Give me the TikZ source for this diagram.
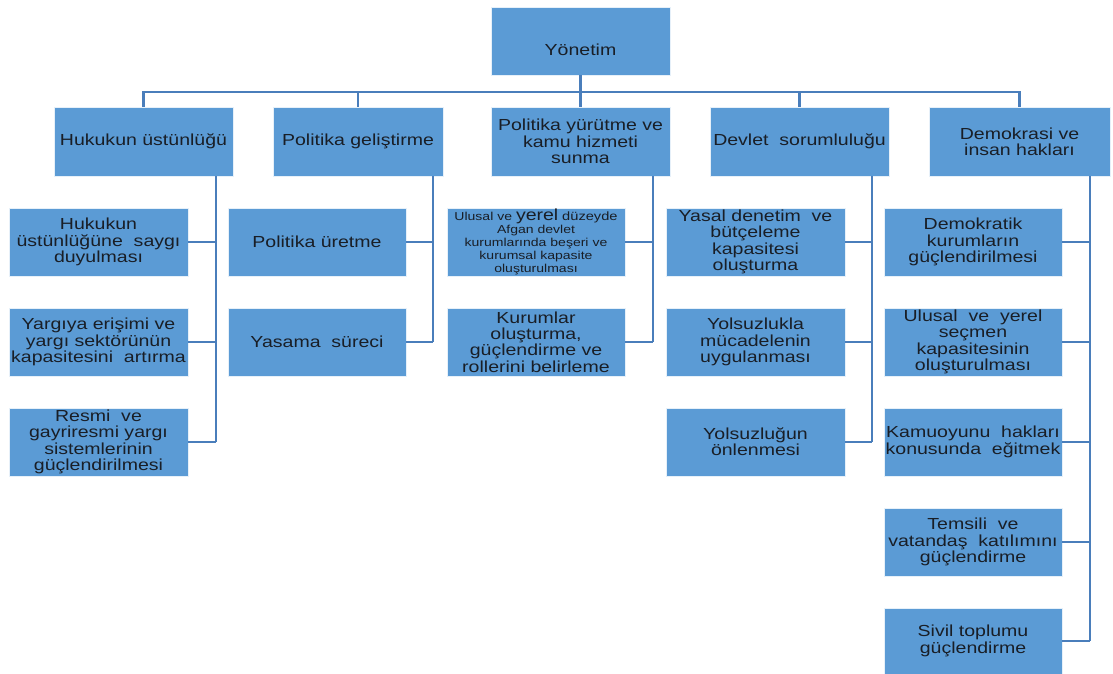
\documentclass[tikz,border=0pt]{standalone}
\usepackage{fontspec}
\setmainfont[FakeStretch=1.22]{Liberation Sans}
\definecolor{boxblue}{RGB}{91,155,213}
\definecolor{linkblue}{RGB}{74,126,187}
\definecolor{textdark}{RGB}{25,30,38}
\begin{document}
\begin{tikzpicture}[x=1pt,y=-1pt,
  box/.style={fill=boxblue, draw=white!85!boxblue, line width=0.8pt, inner sep=0pt,
    minimum width=179pt, minimum height=68pt, align=center, text=textdark,
    font=\fontsize{16}{16.3}\selectfont},
  link/.style={draw=linkblue, line width=2.6pt}]
\useasboundingbox (0,0) rectangle (1113,674);

% top
\node[box, text height=33pt, text depth=3pt] (yon) at (580.5,41) {Yönetim};

% first level
\node[box, minimum height=69pt] (hk) at (143.5,141.5) {Hukukun üstünlüğü};
\node[box, minimum height=69pt, minimum width=170pt] (pg) at (358,141.5) {Politika geliştirme};
\node[box, minimum height=69pt] (py) at (580.5,141.5) {Politika yürütme ve\\kamu hizmeti\\sunma};
\node[box, minimum height=69pt] (ds) at (799.5,141.5) {Devlet\ \ sorumluluğu};
\node[box, minimum height=69pt, minimum width=181pt] (dh) at (1019.5,141.5) {Demokrasi ve\\insan hakları};

% bus
\coordinate (bus) at (0,92);
\draw[link] (hk.north) -- (hk.north |- bus) -- (dh.north |- bus) -- (dh.north);
\draw[link] (yon.south) -- (py.north);
\draw[link] (pg.north) -- (pg.north |- bus);
\draw[link] (ds.north) -- (ds.north |- bus);

% Hukukun ustunlugu
\node[box] (hk1) at (98.5,242) {Hukukun\\üstünlüğüne\ \ saygı\\duyulması};
\node[box] (hk2) at (98.5,342) {Yargıya erişimi ve\\yargı sektörünün\\kapasitesini\ \ artırma};
\node[box] (hk3) at (98.5,442) {Resmi\ \ ve\\gayriresmi yargı\\sistemlerinin\\güçlendirilmesi};
\coordinate (s1) at (216,0);
\draw[link] (hk.south -| s1) -- (hk3.east -| s1);
\foreach \c in {hk1,hk2,hk3} \draw[link] (\c.east) -- (\c.east -| s1);

% Politika gelistirme
\node[box, minimum width=178pt] (pg1) at (317,242) {Politika üretme};
\node[box, minimum width=178pt] (pg2) at (317,342) {Yasama\ \ süreci};
\coordinate (s2) at (433,0);
\draw[link] (pg.south -| s2) -- (pg2.east -| s2);
\foreach \c in {pg1,pg2} \draw[link] (\c.east) -- (\c.east -| s2);

% Politika yurutme
\node[box, minimum width=178pt, font=\fontsize{11.5}{13}\selectfont] (py1) at (536,242)
  {Ulusal ve {\fontsize{16}{13}\selectfont yerel} {\fontsize{12}{13}\selectfont düzeyde}\\Afgan devlet\\kurumlarında beşeri ve\\kurumsal kapasite\\oluşturulması};
\node[box, minimum width=178pt] (py2) at (536,342) {Kurumlar\\oluşturma,\\güçlendirme ve\\rollerini belirleme};
\coordinate (s3) at (653,0);
\draw[link] (py.south -| s3) -- (py2.east -| s3);
\foreach \c in {py1,py2} \draw[link] (\c.east) -- (\c.east -| s3);

% Devlet sorumlulugu
\node[box] (ds1) at (755.5,242) {Yasal denetim\ \ ve\\bütçeleme\\kapasitesi\\oluşturma};
\node[box] (ds2) at (755.5,342) {Yolsuzlukla\\mücadelenin\\uygulanması};
\node[box] (ds3) at (755.5,442) {Yolsuzluğun\\önlenmesi};
\coordinate (s4) at (872,0);
\draw[link] (ds.south -| s4) -- (ds3.east -| s4);
\foreach \c in {ds1,ds2,ds3} \draw[link] (\c.east) -- (\c.east -| s4);

% Demokrasi ve insan haklari
\node[box, minimum width=178pt] (dh1) at (973,242) {Demokratik\\kurumların\\güçlendirilmesi};
\node[box, minimum width=178pt] (dh2) at (973,342) {Ulusal\ \ ve\ \ yerel\\seçmen\\kapasitesinin\\oluşturulması};
\node[box, minimum width=178pt] (dh3) at (973,442) {Kamuoyunu\ \ hakları\\konusunda\ \ eğitmek};
\node[box, minimum width=178pt] (dh4) at (973,542) {Temsili\ \ ve\\vatandaş\ \ katılımını\\güçlendirme};
\node[box, minimum width=178pt, minimum height=66pt] (dh5) at (973,641) {Sivil toplumu\\güçlendirme};
\coordinate (s5) at (1090,0);
\draw[link] (dh.south -| s5) -- (dh5.east -| s5);
\foreach \c in {dh1,dh2,dh3,dh4,dh5} \draw[link] (\c.east) -- (\c.east -| s5);

\end{tikzpicture}
\end{document}
